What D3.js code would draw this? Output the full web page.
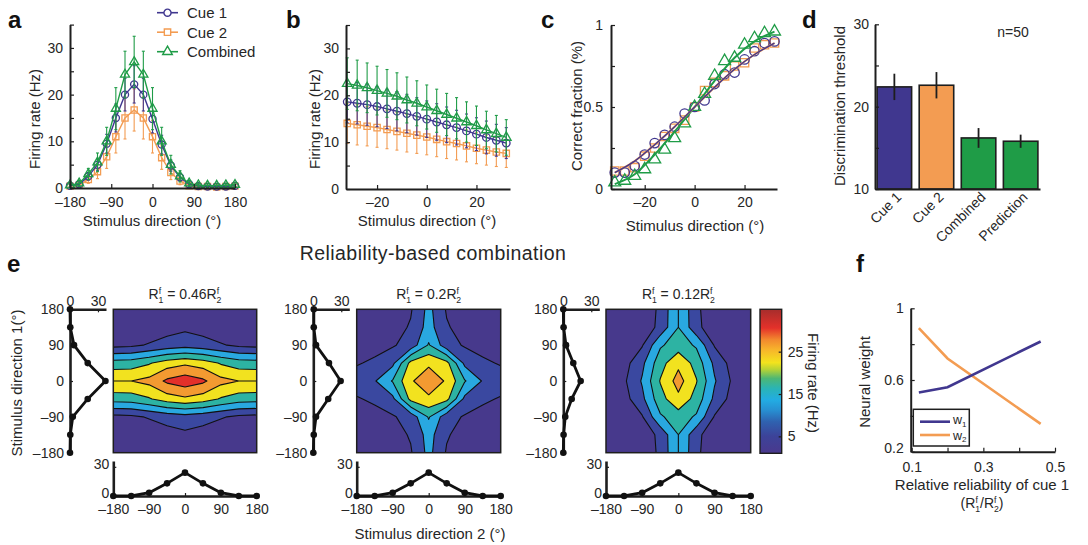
<!DOCTYPE html>
<html>
<head>
<meta charset="utf-8">
<script src="https://cdn.jsdelivr.net/npm/d3@7/dist/d3.min.js"></script>
<style>
  body { margin: 0; background: #fff; }
  svg { font-family: "Liberation Sans", Arial, Helvetica, sans-serif; }
  text { fill: #262626; }
</style>
</head>
<body>
<svg id="fig" width="1088" height="545"></svg>
<script>
// ---------- values ----------

// a: tuning curves
const dirA = [-180, -160, -140, -120, -100, -80, -60, -40, -20, 0, 20, 40, 60, 80, 100, 120, 140, 160, 180];
const cue1A = [0.5, 0.8, 2.5, 5, 9.5, 15, 20, 22.2, 20, 14.8, 9.3, 4.8, 2.3, 0.8, 0.4, 0.3, 0.3, 0.3, 0.5];
const cue2A = [0.4, 0.6, 1.8, 3.5, 6.7, 11, 15, 16.7, 15, 11, 6.5, 3.3, 1.5, 0.5, 0.3, 0.3, 0.2, 0.3, 0.4];
const combA = [0.6, 1, 3, 5.5, 10, 17, 24.3, 27, 24.3, 17, 10, 5, 2.5, 1, 0.6, 0.5, 0.5, 0.6, 0.7];
const errCue1A = [0.3, 0.5, 0.8, 1.2, 2, 3, 3.5, 4, 3.5, 3, 2, 1.2, 0.8, 0.5, 0.3, 0.3, 0.3, 0.3, 0.3];
const errCue2A = [0.3, 0.4, 0.8, 1.5, 2.5, 3.5, 4.5, 4.5, 4.5, 3.5, 2.5, 1.5, 0.8, 0.4, 0.3, 0.3, 0.3, 0.3, 0.3];
const errCombA = [0.4, 0.6, 1.2, 2, 3, 4.5, 5, 5.5, 5, 4.5, 3, 2, 1.2, 0.6, 0.4, 0.4, 0.4, 0.4, 0.4];

// b: zoom on the flank
const dirB = [-32, -28, -24, -20, -16, -12, -8, -4, 0, 4, 8, 12, 16, 20, 24, 28, 32];
const cue1B = [18.6, 18.3, 18.0, 17.6, 17.1, 16.6, 16.1, 15.5, 14.9, 14.3, 13.7, 13.1, 12.4, 11.7, 11.0, 10.4, 9.8];
const cue2B = [14.0, 13.7, 13.4, 13.1, 12.7, 12.3, 11.9, 11.5, 11.1, 10.6, 10.1, 9.7, 9.2, 8.7, 8.3, 7.9, 7.6];
const combB = [22.5, 22.1, 21.6, 21.0, 20.4, 19.8, 19.0, 18.3, 17.5, 16.7, 15.9, 15.1, 14.3, 13.5, 12.6, 11.8, 11.0];
const errCue1B = [4.5, 4.4, 4.4, 4.3, 4.2, 4.2, 4.1, 4.0, 3.9, 3.9, 3.8, 3.7, 3.6, 3.5, 3.5, 3.4, 3.3];
const errCue2B = [4.3, 4.3, 4.2, 4.2, 4.1, 4.0, 4.0, 3.9, 3.8, 3.7, 3.6, 3.5, 3.4, 3.3, 3.2, 3.1, 3.0];
const errCombB = [5.5, 5.4, 5.3, 5.2, 5.1, 5.0, 4.9, 4.8, 4.7, 4.6, 4.5, 4.4, 4.3, 4.2, 4.0, 3.9, 3.8];

// c: psychometric data and fitted curves
const dirC = [-32, -28, -24, -20, -16, -12, -8, -4, 0, 4, 8, 12, 16, 20, 24, 28, 32];
const cue1C = [0.10, 0.10, 0.14, 0.21, 0.28, 0.33, 0.38, 0.46, 0.50, 0.54, 0.64, 0.70, 0.71, 0.79, 0.84, 0.89, 0.90];
const cue2C = [0.11, 0.11, 0.13, 0.20, 0.25, 0.32, 0.37, 0.42, 0.50, 0.60, 0.65, 0.69, 0.75, 0.77, 0.86, 0.88, 0.89];
const combC = [0.04, 0.05, 0.08, 0.12, 0.18, 0.24, 0.31, 0.40, 0.50, 0.58, 0.69, 0.78, 0.80, 0.88, 0.92, 0.95, 0.96];
const fitDirC = [-32, -24, -16, -8, 0, 8, 16, 24, 32];
const fitCueC = [0.10, 0.17, 0.27, 0.38, 0.50, 0.62, 0.73, 0.82, 0.89];
const fitCombC = [0.03, 0.09, 0.21, 0.35, 0.50, 0.66, 0.80, 0.90, 0.96];

// d: thresholds
const condD = ["Cue 1", "Cue 2", "Combined", "Prediction"];
const threshD = [22.4, 22.6, 16.2, 15.8];
const errD = [1.6, 1.6, 1.2, 0.8];

// e: joint responses (rows: direction 1 = -180..180, cols: direction 2 = -180..180)
const dirE = [-180, -135, -90, -45, 0, 45, 90, 135, 180];
const heatE1 = [
  [0.5, 0.5, 1, 2, 2.5, 2, 1, 0.5, 0.5],
  [1, 1, 1.5, 3, 4, 3, 1.5, 1, 1],
  [3.5, 4, 5.5, 7, 8, 7, 5.5, 4, 3.5],
  [17.2, 17.5, 19.5, 22.5, 24, 22.5, 19.5, 17.5, 17.2],
  [25, 25, 26.5, 31, 33, 31, 26.5, 25, 25],
  [17.2, 17.5, 19.5, 22.5, 24, 22.5, 19.5, 17.5, 17.2],
  [3.5, 4, 5.5, 7, 8, 7, 5.5, 4, 3.5],
  [1, 1, 1.5, 3, 4, 3, 1.5, 1, 1],
  [0.5, 0.5, 1, 2, 2.5, 2, 1, 0.5, 0.5]
];
const heatE2 = [
  [1.5, 1.5, 2, 4.5, 11.5, 4.5, 2, 1.5, 1.5],
  [1.5, 2, 3, 5.5, 12, 5.5, 3, 2, 1.5],
  [2.5, 3, 4.5, 7, 15.5, 7, 4.5, 3, 2.5],
  [4.5, 6, 8.8, 21.5, 24.1, 21.5, 8.8, 6, 4.5],
  [8, 9.6, 15.4, 24.4, 28, 24.4, 15.4, 9.6, 8],
  [4.5, 6, 8.8, 21.5, 24.1, 21.5, 8.8, 6, 4.5],
  [2.5, 3, 4.5, 7, 15.5, 7, 4.5, 3, 2.5],
  [1.5, 2, 3, 5.5, 12, 5.5, 3, 2, 1.5],
  [1.5, 1.5, 2, 4.5, 11.5, 4.5, 2, 1.5, 1.5]
];
const heatE3 = [
  [0.8, 0.8, 1, 6.2, 15, 6.2, 1, 0.8, 0.8],
  [1, 1.2, 1.5, 6.5, 15, 6.5, 1.5, 1.2, 1],
  [2, 2.5, 4.6, 14.3, 17.5, 14.3, 4.6, 2.5, 2],
  [2.5, 3.1, 8.8, 18.1, 23.8, 18.1, 8.8, 3.1, 2.5],
  [3.5, 4.2, 10.5, 20.3, 27, 20.3, 10.5, 4.2, 3.5],
  [2.5, 3.1, 8.8, 18.1, 23.8, 18.1, 8.8, 3.1, 2.5],
  [2, 2.5, 4.6, 14.3, 17.5, 14.3, 4.6, 2.5, 2],
  [1, 1.2, 1.5, 6.5, 15, 6.5, 1.5, 1.2, 1],
  [0.8, 0.8, 1, 6.2, 15, 6.2, 1, 0.8, 0.8]
];
const levelsE = [5, 10, 15, 20, 25, 30];
// marginal tuning curves (direction -180..180)
const tune1E1 = [0, 0.3, 3, 19, 38, 19, 4.3, 0.3, 0];
const tune1E2 = [0, 0.5, 2.9, 16, 29.3, 16.8, 2.9, 0.5, 0.5];
const tune1E3 = [0, 0.3, 2.1, 9, 18.6, 10.7, 2.9, 0.3, 0];
const tune2E = [0, 0, 3.4, 13, 24, 13, 3.4, 0, 0];
const ratioLabels = ["0.46", "0.2", "0.12"];

// f: neural weights
const ratioF = [0.12, 0.2, 0.46];
const w1F = [0.53, 0.56, 0.815];
const w2F = [0.89, 0.72, 0.355];

// ---------- drawing ----------
const svg = d3.select("#fig");
const INK = "#1e1e1e";
const C1 = "#40378f", C2 = "#f39c52", CC = "#1f9c47";
const BAND = ["#47398c", "#3a48a0", "#29a8e0", "#2db3a3", "#f2e21f", "#f39a31", "#e3302a"];
const fmt = d => d < 0 ? "\u2013" + Math.abs(d) : String(d);

function styleAxis(ax, fs) {
  ax.attr("font-family", null).attr("font-size", fs || 14);
  ax.select(".domain").attr("stroke", INK).attr("stroke-width", 2);
  ax.selectAll(".tick line").attr("stroke", INK).attr("stroke-width", 1.2);
  ax.selectAll(".tick text").attr("fill", "#262626");
  return ax;
}
function leftAxis(y, x0, ticks, labelled, f, pad) {
  return styleAxis(svg.append("g").attr("transform", `translate(${x0},0)`)
    .call(d3.axisLeft(y).tickValues(ticks).tickSizeInner(-4).tickSizeOuter(0).tickPadding(pad || 7)
      .tickFormat(d => labelled.includes(d) ? (f || fmt)(d) : "")));
}
function bottomAxis(x, y0, ticks, labelled, f, pad) {
  return styleAxis(svg.append("g").attr("transform", `translate(0,${y0})`)
    .call(d3.axisBottom(x).tickValues(ticks).tickSizeInner(-4).tickSizeOuter(0).tickPadding(pad || 8)
      .tickFormat(d => labelled.includes(d) ? (f || fmt)(d) : "")));
}
function label(t, x, y, size, opts) {
  const o = opts || {};
  const el = svg.append("text").attr("x", x).attr("y", y).attr("font-size", size)
    .attr("text-anchor", o.anchor || "middle").text(t);
  if (o.rot) el.attr("transform", `rotate(${o.rot},${x},${y})`);
  if (o.bold) el.attr("font-weight", "bold").style("fill", "#111");
  if (o.ls) el.attr("letter-spacing", o.ls);
  return el;
}
function marker(shape, size) {
  const type = shape === "circle" ? d3.symbolCircle : shape === "square" ? d3.symbolSquare : d3.symbolTriangle;
  return d3.symbol().type(type).size(size)();
}

// series with error bars and hollow markers
function errorSeries(x, y, dirs, vals, errs, color, shape, msize) {
  const g = svg.append("g");
  const rows = d3.zip(dirs, vals, errs);
  const eb = g.selectAll("g").data(rows).join("g").attr("stroke", color).attr("stroke-width", 1.1);
  eb.append("line").attr("x1", d => x(d[0])).attr("x2", d => x(d[0]))
    .attr("y1", d => y(Math.max(0, d[1] - d[2]))).attr("y2", d => y(d[1] + d[2]));
  [-1, 1].forEach(s => eb.append("line")
    .attr("x1", d => x(d[0]) - 1.5).attr("x2", d => x(d[0]) + 1.5)
    .attr("y1", d => y(Math.max(0, d[1] + s * d[2]))).attr("y2", d => y(Math.max(0, d[1] + s * d[2]))));
  g.append("path").datum(rows).attr("fill", "none").attr("stroke", color).attr("stroke-width", 1.4)
    .attr("d", d3.line().x(d => x(d[0])).y(d => y(d[1])));
  g.selectAll("path.m").data(rows).join("path").attr("class", "m")
    .attr("transform", d => `translate(${x(d[0])},${y(d[1])})`)
    .attr("d", marker(shape, msize)).attr("fill", "none").attr("stroke", color).attr("stroke-width", 1.3);
}

// ---- panel a ----
{
  const x = d3.scaleLinear().domain([-180, 180]).range([70, 235]);
  const y = d3.scaleLinear().domain([0, 35]).range([188, 24.6]);
  errorSeries(x, y, dirA, cue2A, errCue2A, C2, "square", 38);
  errorSeries(x, y, dirA, cue1A, errCue1A, C1, "circle", 40);
  errorSeries(x, y, dirA, combA, errCombA, CC, "triangle", 36);
  leftAxis(y, 70, [0, 5, 10, 15, 20, 25, 30, 35], [0, 10, 20, 30]);
  bottomAxis(x, 188, [-180, -90, 0, 90, 180], [-180, -90, 0, 90, 180], fmt, 9);
  label("Firing rate (Hz)", 40, 119, 15, { rot: -90 });
  label("Stimulus direction (\u00b0)", 152, 226, 15);
  label("a", 8, 28, 24, { anchor: "start", bold: true });
  // legend
  const names = ["Cue 1", "Cue 2", "Combined"], cols = [C1, C2, CC], shapes = ["circle", "square", "triangle"];
  const ly = d3.scalePoint().domain(names).range([12.7, 51.7]);
  names.forEach((n, i) => {
    svg.append("line").attr("x1", 157).attr("x2", 178).attr("y1", ly(n)).attr("y2", ly(n))
      .attr("stroke", cols[i]).attr("stroke-width", 1.6);
    svg.append("path").attr("transform", `translate(167.5,${ly(n)})`).attr("d", marker(shapes[i], 40))
      .attr("fill", "#fff").attr("stroke", cols[i]).attr("stroke-width", 1.4);
    label(n, 187, ly(n) + 5.5, 15, { anchor: "start" });
  });
}

// ---- panel b ----
{
  const x = d3.scaleLinear().domain([-32.5, 33.5]).range([346, 510]);
  const y = d3.scaleLinear().domain([0, 35]).range([189, 25]);
  errorSeries(x, y, dirB, cue2B, errCue2B, C2, "square", 40);
  errorSeries(x, y, dirB, cue1B, errCue1B, C1, "circle", 45);
  errorSeries(x, y, dirB, combB, errCombB, CC, "triangle", 40);
  leftAxis(y, 346, [0, 5, 10, 15, 20, 25, 30, 35], [0, 10, 20, 30]);
  bottomAxis(x, 189, [-20, 0, 20], [-20, 0, 20]);
  label("Firing rate (Hz)", 320, 119, 15, { rot: -90 });
  label("Stimulus direction (\u00b0)", 427, 226, 15);
  label("b", 286, 28, 24, { anchor: "start", bold: true });
}

// ---- panel c ----
{
  const x = d3.scaleLinear().domain([-33.5, 33]).range([611, 777]);
  const y = d3.scaleLinear().domain([0, 1]).range([189, 25]);
  const g = svg.append("g");
  const series = [[cue2C, C2, "square"], [cue1C, C1, "circle"], [combC, CC, "triangle"]];
  series.forEach(([vals, col, shape]) => {
    g.append("g").selectAll("path").data(d3.zip(dirC, vals)).join("path")
      .attr("transform", d => `translate(${x(d[0])},${y(d[1])})`)
      .attr("d", marker(shape, shape === "triangle" ? 62 : 70))
      .attr("fill", "none").attr("stroke", col).attr("stroke-width", 1.3);
  });
  const fl = d3.line().x(d => x(d[0])).y(d => y(d[1])).curve(d3.curveMonotoneX);
  g.append("path").datum(d3.zip(fitDirC, fitCombC)).attr("d", fl).attr("fill", "none").attr("stroke", CC).attr("stroke-width", 2);
  g.append("path").datum(d3.zip(fitDirC, fitCueC)).attr("d", fl).attr("fill", "none").attr("stroke", C2).attr("stroke-width", 2);
  g.append("path").datum(d3.zip(fitDirC, fitCueC)).attr("d", fl).attr("fill", "none").attr("stroke", C1).attr("stroke-width", 1.4);
  leftAxis(y, 611, [0, 0.25, 0.5, 0.75, 1], [0, 0.5, 1], d => String(d), 8);
  bottomAxis(x, 189, [-20, 0, 20], [-20, 0, 20]);
  label("Correct fraction (%)", 582, 106, 15, { rot: -90 });
  label("Stimulus direction (\u00b0)", 695, 231, 15);
  label("c", 541, 28, 24, { anchor: "start", bold: true });
}

// ---- panel d ----
{
  const x = d3.scaleBand().domain(condD).range([875, 1040]).paddingInner(0.18).paddingOuter(0.05);
  const y = d3.scaleLinear().domain([10, 30]).range([189, 24.3]);
  const cols = [C1, C2, CC, CC];
  svg.append("g").selectAll("rect").data(condD).join("rect")
    .attr("x", d => x(d)).attr("width", x.bandwidth())
    .attr("y", (d, i) => y(threshD[i])).attr("height", (d, i) => y(10) - y(threshD[i]))
    .attr("fill", (d, i) => cols[i]).attr("stroke", INK).attr("stroke-width", 1.6);
  svg.append("g").selectAll("line").data(condD).join("line")
    .attr("x1", d => x(d) + x.bandwidth() / 2).attr("x2", d => x(d) + x.bandwidth() / 2)
    .attr("y1", (d, i) => y(threshD[i] - errD[i])).attr("y2", (d, i) => y(threshD[i] + errD[i]))
    .attr("stroke", INK).attr("stroke-width", 1.8);
  leftAxis(y, 875, [10, 15, 20, 25, 30], [10, 20, 30], d => String(d), 6);
  const xa = svg.append("g").attr("transform", "translate(0,189)")
    .call(d3.axisBottom(x).tickSize(0).tickFormat(""));
  styleAxis(xa);
  condD.forEach(c => {
    const cx = x(c) + x.bandwidth() / 2 + 8;
    label(c, cx, 198, 14, { anchor: "end", rot: -45 });
  });
  label("Discrimination threshold", 845, 106, 15, { rot: -90 });
  label("n=50", 1013, 37, 14);
  label("d", 802, 28, 24, { anchor: "start", bold: true });
}

// ---- panel e ----
function relText(x, y, size, before, mid, after) {
  const t = svg.append("text").attr("x", x).attr("y", y).attr("font-size", size).attr("text-anchor", "middle");
  const s = size * 0.62;
  t.append("tspan").text(before + "R");
  t.append("tspan").attr("dy", -5).attr("font-size", s).text("f");
  t.append("tspan").attr("dx", -2.6).attr("dy", 8.5).attr("font-size", s).text("1");
  t.append("tspan").attr("dy", -3.5).text(mid + "R");
  t.append("tspan").attr("dy", -5).attr("font-size", s).text("f");
  t.append("tspan").attr("dx", -2.6).attr("dy", 8.5).attr("font-size", s).text("2");
  t.append("tspan").attr("dy", -3.5).text(after);
  return t;
}

const boxesE = [
  { x0: 113.3, x1: 256.7, ax: 70 },
  { x0: 356.7, x1: 500.7, ax: 313.3 },
  { x0: 606, x1: 750.7, ax: 563.3 }
];
const heatsE = [heatE1, heatE2, heatE3];
const tunesE = [tune1E1, tune1E2, tune1E3];
const Y0 = 309.3, Y1 = 452.7;

boxesE.forEach((b, k) => {
  const g = svg.append("g");
  const gx = d3.scaleLinear().domain([0.5, 8.5]).range([b.x0, b.x1]);
  const gy = d3.scaleLinear().domain([0.5, 8.5]).range([Y1, Y0]);
  const path = d3.geoPath(d3.geoTransform({ point(px, py) { this.stream.point(gx(px), gy(py)); } }));
  const cid = "clipE" + k;
  g.append("clipPath").attr("id", cid).append("rect")
    .attr("x", b.x0).attr("y", Y0).attr("width", b.x1 - b.x0).attr("height", Y1 - Y0);
  const inner = g.append("g").attr("clip-path", `url(#${cid})`);
  inner.append("rect").attr("x", b.x0).attr("y", Y0).attr("width", b.x1 - b.x0).attr("height", Y1 - Y0)
    .attr("fill", BAND[0]);
  const cs = d3.contours().size([9, 9]).thresholds(levelsE)(heatsE[k].flat());
  inner.selectAll("path").data(cs).join("path").attr("d", path)
    .attr("fill", (d, i) => BAND[i + 1]).attr("stroke", "#111").attr("stroke-width", 1.1)
    .attr("stroke-linejoin", "round");
  g.append("rect").attr("x", b.x0).attr("y", Y0).attr("width", b.x1 - b.x0).attr("height", Y1 - Y0)
    .attr("fill", "none").attr("stroke", INK).attr("stroke-width", 1.5);

  // left marginal: cue 1 tuning
  const th = d3.scaleLinear().domain([-180, 180]).range([Y1, Y0]);
  const tx = d3.scaleLinear().domain([0, 38.6]).range([b.ax, b.ax + 36]);
  const la = leftAxis(th, b.ax, [-180, -90, 0, 90, 180], [-180, -90, 0, 90, 180], fmt, 6);
  la.selectAll(".tick line").attr("x2", 3);
  la.select(".domain").attr("stroke-width", 2.6);
  const ta = styleAxis(svg.append("g").attr("transform", `translate(0,${Y0})`)
    .call(d3.axisTop(tx).tickValues([0, 30]).tickSizeInner(-3).tickSizeOuter(0).tickPadding(3)));
  ta.select(".domain").attr("stroke-width", 2.6);
  const lm = d3.zip(dirE, tunesE[k]);
  svg.append("path").datum(lm).attr("fill", "none").attr("stroke", "#111").attr("stroke-width", 2.8)
    .attr("stroke-linejoin", "round")
    .attr("d", d3.line().x(d => tx(d[1])).y(d => th(d[0])));
  svg.append("g").selectAll("circle").data(lm).join("circle")
    .attr("cx", d => tx(d[1])).attr("cy", d => th(d[0])).attr("r", 3.3).attr("fill", "#111");

  // bottom marginal: cue 2 tuning
  const bx = d3.scaleLinear().domain([-180, 180]).range([b.x0, b.x1]);
  const by = d3.scaleLinear().domain([0, 36]).range([496, 461]);
  const ba = styleAxis(svg.append("g").attr("transform", "translate(0,496)")
    .call(d3.axisBottom(bx).tickValues([-180, -90, 0, 90, 180]).tickSizeInner(-3).tickSizeOuter(0).tickPadding(8).tickFormat(fmt)));
  ba.select(".domain").attr("stroke-width", 2.6);
  const bl = styleAxis(svg.append("g").attr("transform", `translate(${b.x0},0)`)
    .call(d3.axisLeft(by).tickValues([0, 30]).tickSizeInner(-3).tickSizeOuter(0).tickPadding(4)));
  bl.select(".domain").attr("stroke-width", 2.6);
  bl.selectAll(".tick text").attr("dy", "0.1em");
  const bm = d3.zip(dirE, tune2E);
  svg.append("path").datum(bm).attr("fill", "none").attr("stroke", "#111").attr("stroke-width", 2.8)
    .attr("stroke-linejoin", "round")
    .attr("d", d3.line().x(d => bx(d[0])).y(d => by(d[1])));
  svg.append("g").selectAll("circle").data(bm).join("circle")
    .attr("cx", d => bx(d[0])).attr("cy", d => by(d[1])).attr("r", 3.3).attr("fill", "#111");

  relText((b.x0 + b.x1) / 2, 299, 14, "", " = " + ratioLabels[k], "");
});

// colorbar
{
  const cb = d3.scaleLinear().domain([1, 35]).range([453.3, 309.3]);
  const stops = [[0, "#4a398d"], [0.12, "#3c4399"], [0.22, "#2f62b0"], [0.3, "#2790d2"], [0.37, "#22ace3"],
    [0.45, "#2ab4b6"], [0.52, "#4db774"], [0.58, "#b3d236"], [0.63, "#f3e31d"], [0.72, "#f7b42b"],
    [0.79, "#f2882e"], [0.87, "#e4312a"], [1, "#a62d2c"]];
  const grad = svg.append("defs").append("linearGradient").attr("id", "jet")
    .attr("x1", 0).attr("x2", 0).attr("y1", 1).attr("y2", 0);
  grad.selectAll("stop").data(stops).join("stop").attr("offset", d => d[0]).attr("stop-color", d => d[1]);
  svg.append("rect").attr("x", 760).attr("y", cb.range()[1]).attr("width", 21.7)
    .attr("height", cb.range()[0] - cb.range()[1]).attr("fill", "url(#jet)")
    .attr("stroke", INK).attr("stroke-width", 1.4);
  const ca = styleAxis(svg.append("g").attr("transform", "translate(781.7,0)")
    .call(d3.axisRight(cb).tickValues([5, 15, 25]).tickSizeInner(-3).tickSizeOuter(0).tickPadding(6)));
  ca.select(".domain").remove();
  label("Firing rate (Hz)", 808, 383, 15, { rot: 90 });
}

label("Reliability-based combination", 433, 260, 19.5, { ls: 0.45 });
label("Stimulus direction 1(\u00b0)", 22, 383, 15, { rot: -90 });
label("Stimulus direction 2 (\u00b0)", 430, 539, 15);
label("e", 7, 272, 24, { anchor: "start", bold: true });

// ---- panel f ----
{
  const x = d3.scaleLinear().domain([0.1, 0.5]).range([911.7, 1055]);
  const y = d3.scaleLinear().domain([0.2, 1]).range([451.7, 308.3]);
  const ln = d3.line().x(d => x(d[0])).y(d => y(d[1]));
  svg.append("path").datum(d3.zip(ratioF, w2F)).attr("d", ln).attr("fill", "none").attr("stroke", C2).attr("stroke-width", 2.6);
  svg.append("path").datum(d3.zip(ratioF, w1F)).attr("d", ln).attr("fill", "none").attr("stroke", C1).attr("stroke-width", 2.6);
  const fy = leftAxis(y, 910.7, [0.2, 0.4, 0.6, 0.8, 1], [0.2, 0.6, 1], d => String(d), 7);
  fy.selectAll(".tick text").filter(d => d === 0.2).attr("dy", "0.05em");
  bottomAxis(x, 451.7, [0.1, 0.2, 0.3, 0.4, 0.5], [0.1, 0.3, 0.5], d => String(d), 10);
  // legend
  svg.append("rect").attr("x", 913.3).attr("y", 409.3).attr("width", 56).attr("height", 36.7)
    .attr("fill", "#fff").attr("stroke", INK).attr("stroke-width", 1.5);
  [["1", C1, 421.7, 424], ["2", C2, 435, 439.5]].forEach(([s, c, ly, ty]) => {
    svg.append("line").attr("x1", 920).attr("x2", 950).attr("y1", ly).attr("y2", ly).attr("stroke", c).attr("stroke-width", 2.6);
    const t = svg.append("text").attr("x", 953).attr("y", ty).attr("font-size", 12.5);
    t.append("tspan").text("w");
    t.append("tspan").attr("dy", 2.5).attr("font-size", 8).text(s);
  });
  label("Neural weight", 870, 382, 15, { rot: -90 });
  label("Relative reliability of cue 1", 982, 490, 15);
  relText(982, 508, 14, "(", "/", ")");
  label("f", 856, 272, 24, { anchor: "start", bold: true });
}
</script>
</body>
</html>
